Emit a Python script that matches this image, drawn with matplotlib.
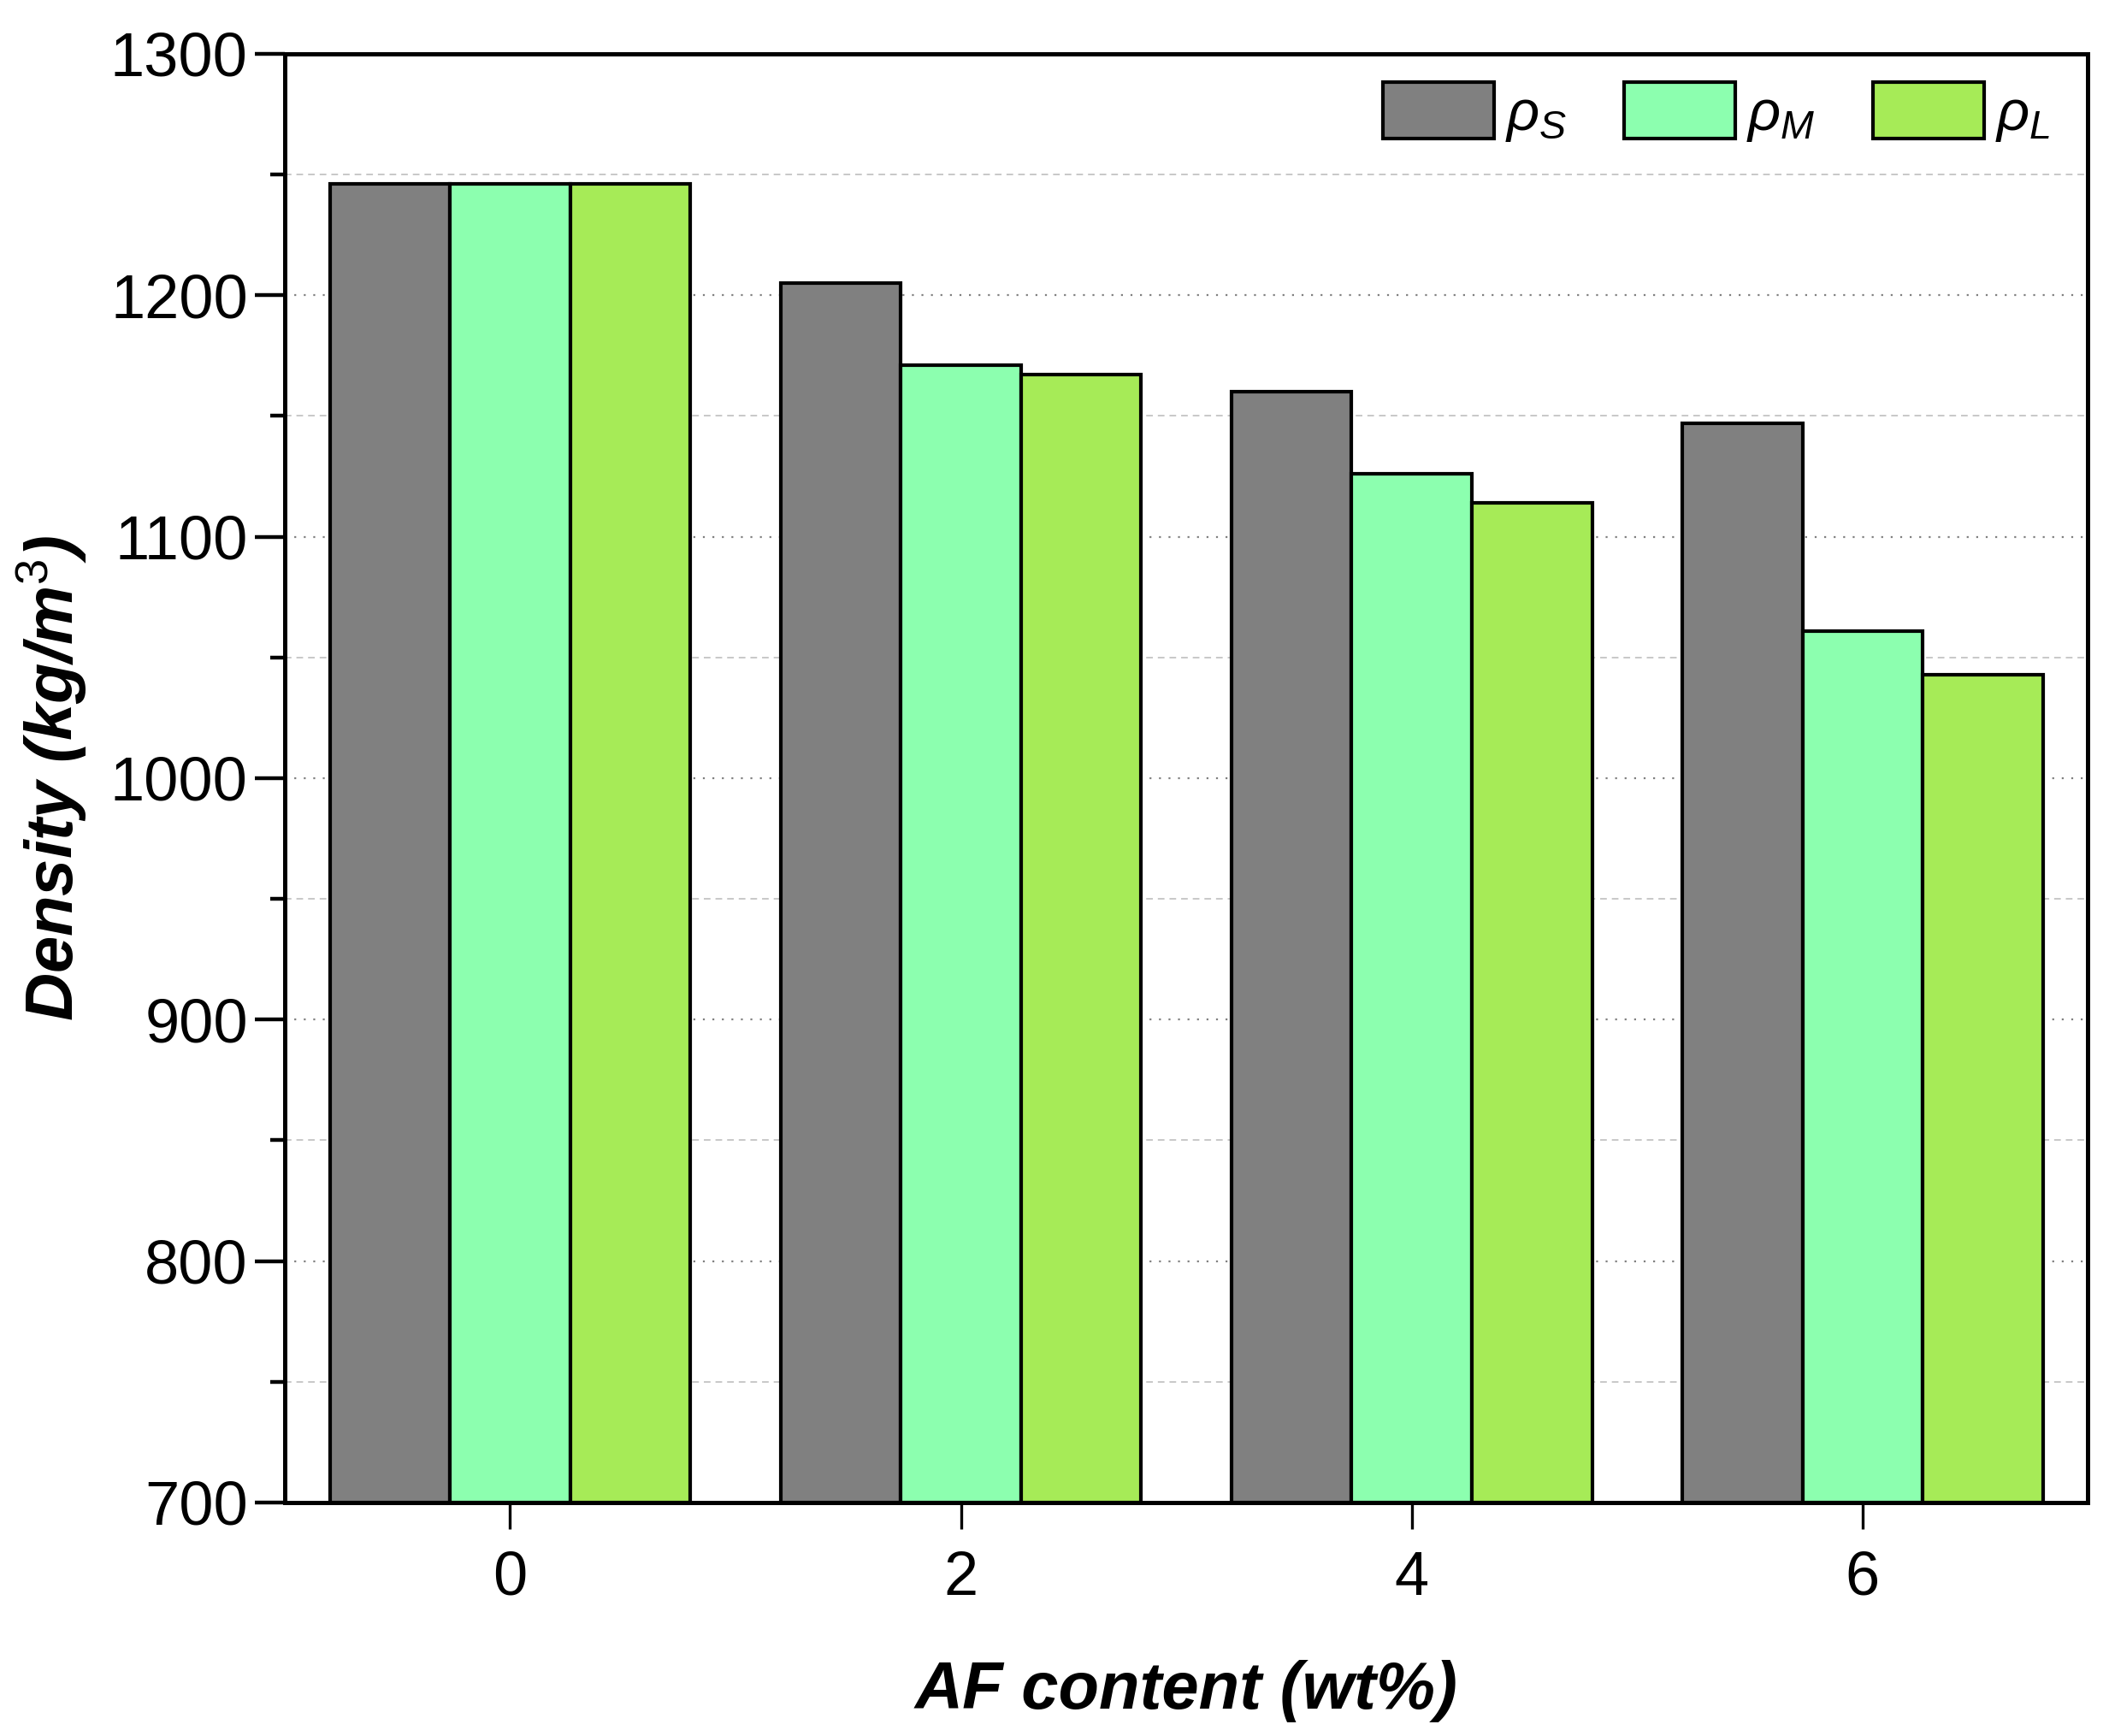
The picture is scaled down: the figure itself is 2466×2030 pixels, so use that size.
import numpy as np
import matplotlib.pyplot as plt
from matplotlib.ticker import MultipleLocator

plt.rcParams['font.family'] = ['Liberation Sans', 'DejaVu Sans']
plt.rcParams['mathtext.fontset'] = 'custom'
plt.rcParams['mathtext.rm'] = 'Liberation Sans'
plt.rcParams['mathtext.it'] = 'Liberation Sans:italic'

# data
af_content = [0, 2, 4, 6]
rho_s = [1246, 1205, 1160, 1147]
rho_m = [1246, 1171, 1126, 1061]
rho_l = [1246, 1167, 1114, 1043]
labels = [r'$\rho_S$', r'$\rho_M$', r'$\rho_L$']
colors = ['#808080', '#8CFFAF', '#A6EB57']

fig = plt.figure(figsize=(24.66, 20.30), dpi=100)
ax = fig.add_axes([0.135, 0.1345, 0.855, 0.8345])

x = np.array(af_content, dtype=float)
w = 0.8 * 2 / 3
for i, (vals, lab, col) in enumerate(zip([rho_s, rho_m, rho_l], labels, colors)):
    ax.bar(x + (i - 1) * w, np.array(vals) - 700, width=w, bottom=700,
           color=col, edgecolor='black', linewidth=3.0, label=lab, zorder=3)

ax.set_xlim(-1, 7)
ax.set_ylim(700, 1300)
ax.set_xticks(af_content)
ax.yaxis.set_major_locator(MultipleLocator(100))
ax.yaxis.set_minor_locator(MultipleLocator(50))

ax.set_axisbelow(True)
ax.grid(axis='y', which='major', linestyle=(0, (1, 4)), color='#808080', linewidth=1.6)
ax.grid(axis='y', which='minor', linestyle=(0, (4, 3)), color='#c8c8c8', linewidth=1.4)

for s in ax.spines.values():
    s.set_linewidth(3.6)

ax.tick_params(axis='y', which='major', direction='out', length=25, width=3.2,
               labelsize=52, pad=6)
ax.tick_params(axis='y', which='minor', direction='out', length=12, width=3.2)
ax.tick_params(axis='x', which='major', direction='out', length=22, width=2.4,
               labelsize=52, pad=18)

ax.set_ylabel('Density (kg/m$^3$)', fontsize=56, fontweight='bold',
              fontstyle='italic', labelpad=18)
ax.set_xlabel('AF content (wt%)', fontsize=56, fontweight='bold',
              fontstyle='italic', labelpad=44)

ax.legend(loc='upper right', ncol=3, frameon=False, fontsize=48,
          handlelength=1.95, handleheight=1.15, handletextpad=0.2,
          columnspacing=1.0, borderaxespad=0.1, bbox_to_anchor=(0.995, 1.0))

fig.savefig('out.png', dpi=100)
